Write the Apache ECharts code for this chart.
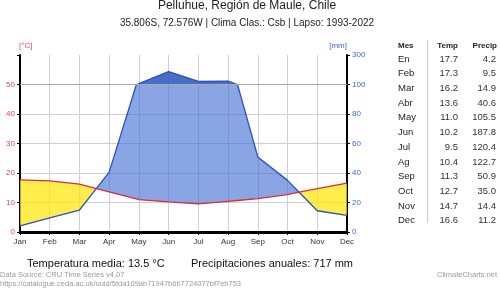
<!DOCTYPE html>
<html><head><meta charset="utf-8">
<script src="https://cdn.jsdelivr.net/npm/echarts@6/dist/echarts.min.js"></script>
<style>html,body{margin:0;padding:0;background:#fff}#c{width:500px;height:289px}</style>
</head><body><div id="c"></div>
<script>
const months = ['Jan','Feb','Mar','Apr','May','Jun','Jul','Aug','Sep','Oct','Nov','Dec'];
const mesLabels = ['En','Feb','Mar','Abr','May','Jun','Jul','Ag','Sep','Oct','Nov','Dec'];
const temps = [17.7,17.3,16.2,13.6,11.0,10.2,9.5,10.4,11.3,12.7,14.7,16.6];
const precip = [4.2,9.5,14.9,40.6,105.5,187.8,120.4,122.7,50.9,35.0,14.4,11.2];
const leftTicks = ['0','10','20','30','40','50',''];
const rightTicks = ['0','20','40','60','80','100','300'];
const title = 'Pelluhue, Región de Maule, Chile';
const subtitle = '35.806S, 72.576W | Clima Clas.: Csb | Lapso: 1993-2022';
const meanText = 'Temperatura media: 13.5 °C';
const sumText = 'Precipitaciones anuales: 717 mm';

// precipitation -> temperature scale (20 mm per 10 °C up to 100 mm, 200 mm per 10 °C above)
function tr(mm){ return mm <= 100 ? mm/2 : 50 + (mm-100)/20; }
function lerp(arr, x){ const i = Math.min(Math.floor(x), arr.length-2); const f = x - i; return arr[i] + (arr[i+1]-arr[i])*f; }
function P(x){ return tr(lerp(precip, x)); }
function T(x){ return lerp(temps, x); }

let xs = [];
for (let i = 0; i < 11; i++) {
  xs.push(i);
  if ((precip[i]-100)*(precip[i+1]-100) < 0) xs.push(i + (100-precip[i])/(precip[i+1]-precip[i]));
}
xs.push(11);
let extra = [];
for (let k = 0; k < xs.length-1; k++) {
  const a = xs[k], b = xs[k+1];
  const da = P(a)-T(a), db = P(b)-T(b);
  if (da*db < 0) extra.push(a + (b-a)*da/(da-db));
}
xs = xs.concat(extra).sort((u,v)=>u-v);

const tLine = xs.map(x => [x, T(x)]);
const pLine = xs.map(x => [x, P(x)]);

function bandPolygon(api, lowerFn, upperFn){
  const up = xs.map(x => api.coord([x, upperFn(x)]));
  const lo = xs.slice().reverse().map(x => api.coord([x, lowerFn(x)]));
  return up.concat(lo);
}

const graphics = [];
const txt = (x,y,text,o) => graphics.push({type:'text', x, y, silent:true, style:Object.assign({text, fill:'#222', font:'10px "Liberation Sans", Arial', textVerticalAlign:'middle'}, o||{})});
txt(247, 6, title, {textAlign:'center', font:'12px "Liberation Sans", Arial', fill:'#222'});
txt(247, 23.5, subtitle, {textAlign:'center', font:'10px "Liberation Sans", Arial', fill:'#222'});
txt(398, 46, 'Mes', {font:'bold 8px "Liberation Sans", Arial'});
txt(458, 46, 'Temp', {textAlign:'right', font:'bold 8px "Liberation Sans", Arial'});
txt(497, 46, 'Precip', {textAlign:'right', font:'bold 8px "Liberation Sans", Arial'});
mesLabels.forEach((m,i) => {
  const y = 59 + i*14.7;
  txt(398, y, m, {font:'9.5px "Liberation Sans", Arial'});
  txt(458, y, temps[i].toFixed(1), {textAlign:'right', font:'9.5px "Liberation Sans", Arial', fill:'#333'});
  txt(496, y, precip[i].toFixed(1), {textAlign:'right', font:'9.5px "Liberation Sans", Arial', fill:'#333'});
});
graphics.push({type:'line', silent:true, shape:{x1:427.5,y1:40,x2:427.5,y2:223}, style:{stroke:'#ccc', lineWidth:1}});
txt(27, 264, meanText, {font:'11px "Liberation Sans", Arial', fill:'#111'});
txt(191, 264, sumText, {font:'11px "Liberation Sans", Arial', fill:'#111'});
txt(0, 274.5, 'Data Source: CRU Time Series v4.07', {font:'7.5px "Liberation Sans", Arial', fill:'#999'});
txt(0, 283.5, 'https://catalogue.ceda.ac.uk/uuid/5fda109ab71947b6b7724077bf7eb753', {font:'7.5px "Liberation Sans", Arial', fill:'#999'});
txt(497, 274.5, 'ClimateCharts.net', {textAlign:'right', font:'7.5px "Liberation Sans", Arial', fill:'#999'});

const chart = echarts.init(document.getElementById('c'), null, {renderer:'canvas'});
chart.setOption({
  animation:false,
  grid:{left:20, right:153, top:55, bottom:57},
  xAxis:{type:'value', min:0, max:11, interval:1,
    axisLine:{show:true, onZero:false, lineStyle:{color:'#000', width:3}},
    axisTick:{show:true, length:3, lineStyle:{color:'#000'}},
    axisLabel:{formatter:v=>months[v], color:'#333', fontSize:8, margin:6, fontFamily:'Liberation Sans'},
    splitLine:{show:true, lineStyle:{color:'#d0d0d0', width:1}}},
  yAxis:[
    {type:'value', min:0, max:60, interval:10, position:'left',
      name:'[°C]', nameLocation:'end', nameGap:5, nameTextStyle:{color:'#e0485a', fontSize:8, align:'left', padding:[0,0,0,-1]},
      axisLine:{show:true, lineStyle:{color:'#000', width:2}},
      axisTick:{show:true, length:3, lineStyle:{color:'#000'}},
      axisLabel:{formatter:v=>leftTicks[v/10], color:'#e0485a', fontSize:8, margin:5},
      splitLine:{show:true, showMaxLine:false, lineStyle:{color:'#d0d0d0', width:1}}},
    {type:'value', min:0, max:60, interval:10, position:'right',
      name:'[mm]', nameLocation:'end', nameGap:5, nameTextStyle:{color:'#4466cc', fontSize:8, align:'right'},
      axisLine:{show:true, lineStyle:{color:'#000', width:2}},
      axisTick:{show:true, length:3, lineStyle:{color:'#000'}},
      axisLabel:{formatter:v=>rightTicks[v/10], color:'#4466cc', fontSize:8, margin:5},
      splitLine:{show:false}}
  ],
  series:[
    {name:'areas', type:'custom', silent:true, data:[[0,0]],
      renderItem:(params, api) => {
        const yellow = bandPolygon(api, x=>Math.min(P(x),T(x)), x=>T(x));
        const light = bandPolygon(api, x=>T(x), x=>Math.max(T(x), Math.min(P(x),50)));
        const dark = bandPolygon(api, x=>50, x=>Math.max(P(x),50));
        return {type:'group', children:[
          {type:'polygon', shape:{points:yellow}, style:{fill:'rgba(255,230,10,0.72)', stroke:null}},
          {type:'polygon', shape:{points:light}, style:{fill:'rgba(60,105,210,0.6)', stroke:null}},
          {type:'polygon', shape:{points:dark}, style:{fill:'rgba(40,85,190,0.85)', stroke:null}}
        ]};
      }},
    {name:'ref', type:'line', data:[], silent:true,
      markLine:{silent:true, symbol:'none', label:{show:false}, lineStyle:{color:'#aaa', width:1, type:'solid'}, data:[{yAxis:50}]}},
    {name:'Precip', type:'line', data:pLine, symbol:'none', silent:true, lineStyle:{color:'#2a50c0', width:1.3}},
    {name:'Temp', type:'line', data:tLine, symbol:'none', silent:true, lineStyle:{color:'#dd2a3a', width:1.3}}
  ],
  graphic: graphics
});
</script>
</body></html>
